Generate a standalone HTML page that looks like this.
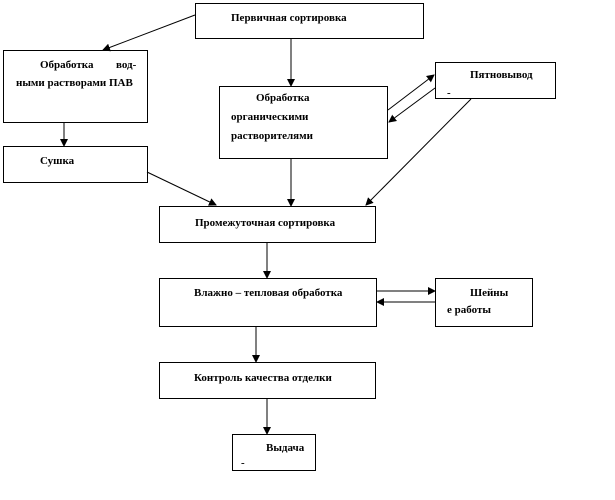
<!DOCTYPE html><html><head><meta charset="utf-8"><style>
body{margin:0;background:#fff}
svg text{font-family:"Liberation Serif",serif;font-weight:bold;font-size:11px;fill:#000}
</style></head><body>
<svg width="615" height="495" viewBox="0 0 615 495" xmlns="http://www.w3.org/2000/svg">
<defs><marker id="a" markerWidth="8" markerHeight="8" refX="7" refY="4" orient="auto" markerUnits="userSpaceOnUse"><path d="M0,0 L8,4 L0,8 z" fill="#000"/></marker></defs>
<g fill="#fff" stroke="#000" stroke-width="1">
<rect x="195.5" y="3.5" width="228" height="35"/>
<rect x="3.5" y="50.5" width="144" height="72"/>
<rect x="3.5" y="146.5" width="144" height="36"/>
<rect x="219.5" y="86.5" width="168" height="72"/>
<rect x="435.5" y="62.5" width="120" height="36"/>
<rect x="159.5" y="206.5" width="216" height="36"/>
<rect x="159.5" y="278.5" width="217" height="48"/>
<rect x="435.5" y="278.5" width="97" height="48"/>
<rect x="159.5" y="362.5" width="216" height="36"/>
<rect x="232.5" y="434.5" width="83" height="36"/>
</g>
<g stroke="#000" stroke-width="1" marker-end="url(#a)">
<line x1="195" y1="15" x2="103" y2="50"/>
<line x1="291" y1="39" x2="291" y2="86"/>
<line x1="64" y1="123" x2="64" y2="146"/>
<line x1="147" y1="172" x2="216" y2="205"/>
<line x1="291" y1="159" x2="291" y2="206"/>
<line x1="471" y1="99" x2="366" y2="205"/>
<line x1="388" y1="110" x2="434" y2="75"/>
<line x1="435" y1="88" x2="389" y2="122"/>
<line x1="267" y1="243" x2="267" y2="278"/>
<line x1="377" y1="291" x2="435" y2="291"/>
<line x1="435" y1="302" x2="377" y2="302"/>
<line x1="256" y1="327" x2="256" y2="362"/>
<line x1="267" y1="399" x2="267" y2="434"/>
</g>
<text x="231" y="21">Первичная сортировка</text>
<text x="40" y="68">Обработка</text><text x="116" y="68">вод-</text>
<text x="16" y="86">ными растворами ПАВ</text>
<text x="40" y="164">Сушка</text>
<text x="256" y="101">Обработка</text>
<text x="231" y="120">органическими</text>
<text x="231" y="139">растворителями</text>
<text x="470" y="78">Пятновывод</text>
<text x="447" y="96">-</text>
<text x="195" y="226">Промежуточная сортировка</text>
<text x="194" y="296">Влажно – тепловая обработка</text>
<text x="470" y="296">Шейны</text>
<text x="447" y="313">е работы</text>
<text x="194" y="381">Контроль качества отделки</text>
<text x="266" y="451">Выдача</text>
<text x="241" y="466">-</text>
</svg>
</body></html>
